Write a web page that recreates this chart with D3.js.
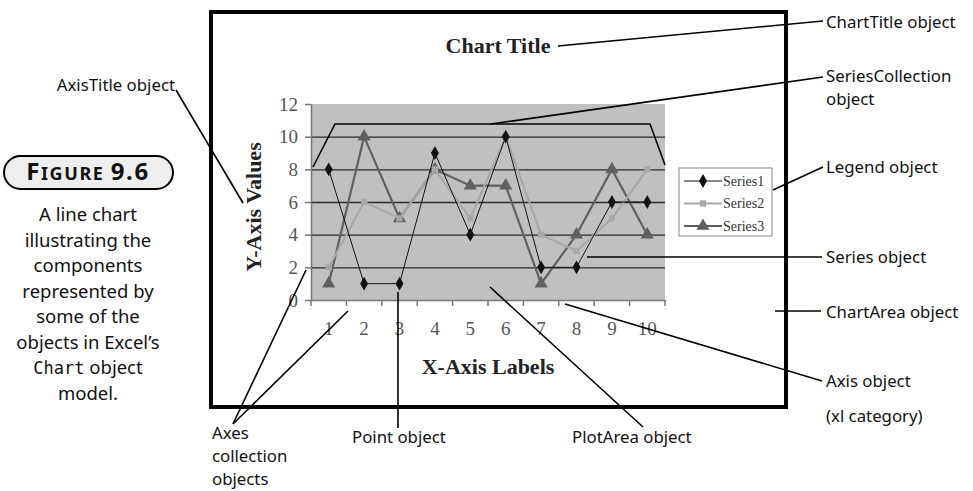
<!DOCTYPE html>
<html>
<head>
<meta charset="utf-8">
<script src="https://cdn.jsdelivr.net/npm/d3@7"></script>
<style>
  body { margin: 0; background: #fff; }
  svg { display: block; }
  .note { font-family: "Noto Sans", Lato, sans-serif; font-size: 16.8px; fill: #111; }
  .serif { font-family: "Liberation Serif", "DejaVu Serif", serif; }
</style>
</head>
<body>
<div id="chart"></div>
<script>
// chart values
const categories = ["1", "2", "3", "4", "5", "6", "7", "8", "9", "10"];
const series1 = [8, 1, 1, 9, 4, 10, 2, 2, 6, 6];
const series2 = [2, 6, 5, 8, 5, 10, 4, 3, 5, 8];
const series3 = [1, 10, 5, 8, 7, 7, 1, 4, 8, 4];
const seriesNames = ["Series1", "Series2", "Series3"];
const yTicks = [0, 2, 4, 6, 8, 10, 12];
const captionLines = ["A line chart", "illustrating the", "components", "represented by", "some of the", "objects in Excel\u2019s"];

var width = 973, height = 491;

var svg = d3.select("#chart")
  .append("svg")
  .attr("width", width)
  .attr("height", height);

// plot area box
var plot = { left: 311, right: 665, top: 104, bottom: 300 };

const x = d3.scaleBand()
  .domain(categories)
  .range([plot.left, plot.right])
  .padding(0);

const y = d3.scaleLinear()
  .domain([0, 12])
  .range([plot.bottom, plot.top]);

// chart area frame
svg.append("rect")
  .attr("x", 211).attr("y", 12)
  .attr("width", 575).attr("height", 395)
  .attr("fill", "#fff")
  .attr("stroke", "#000")
  .attr("stroke-width", 4);

// plot area
svg.append("rect")
  .attr("x", plot.left).attr("y", plot.top)
  .attr("width", plot.right - plot.left)
  .attr("height", plot.bottom - plot.top)
  .attr("fill", "#c0c0c0");

// gridlines
svg.append("g")
  .attr("transform", "translate(" + plot.left + ",0)")
  .call(d3.axisLeft(y).tickValues(yTicks.filter(d => d > 0 && d < 12))
    .tickSize(-(plot.right - plot.left)).tickFormat(""))
  .call(g => g.select(".domain").remove())
  .selectAll("line")
  .attr("stroke", "#2a2a2a")
  .attr("stroke-width", 1.3);

// y axis
var yAxis = svg.append("g")
  .attr("transform", "translate(" + plot.left + ",0)")
  .call(d3.axisLeft(y).tickValues(yTicks).tickSize(6).tickSizeOuter(0).tickPadding(7));
yAxis.select(".domain").attr("stroke", "#777").attr("stroke-width", 1.5);
yAxis.selectAll(".tick line").attr("stroke", "#777").attr("stroke-width", 1.5);
yAxis.selectAll("text")
  .attr("class", "serif")
  .attr("font-size", 19)
  .attr("fill", "#555");

// x axis (labels at band centres, ticks on band edges)
var xAxis = svg.append("g")
  .attr("transform", "translate(0," + plot.bottom + ")")
  .call(d3.axisBottom(x).tickSize(0).tickPadding(22));
xAxis.select(".domain").attr("stroke", "#777").attr("stroke-width", 1.5);
xAxis.selectAll("text")
  .attr("class", "serif")
  .attr("font-size", 19)
  .attr("fill", "#555");
xAxis.selectAll(".edge")
  .data(categories.concat(["end"]))
  .join("line")
  .attr("class", "edge")
  .attr("x1", d => d === "end" ? plot.right : x(d))
  .attr("x2", d => d === "end" ? plot.right : x(d))
  .attr("y1", 0).attr("y2", 6)
  .attr("stroke", "#777").attr("stroke-width", 1.5);

// titles
svg.append("text")
  .attr("class", "serif")
  .attr("x", 498).attr("y", 53)
  .attr("text-anchor", "middle")
  .attr("font-size", 22).attr("font-weight", "bold")
  .attr("fill", "#222")
  .text("Chart Title");

svg.append("text")
  .attr("class", "serif")
  .attr("x", 488).attr("y", 374)
  .attr("text-anchor", "middle")
  .attr("font-size", 22).attr("font-weight", "bold")
  .attr("fill", "#222")
  .text("X-Axis Labels");

svg.append("text")
  .attr("class", "serif")
  .attr("transform", "translate(261,207) rotate(-90)")
  .attr("text-anchor", "middle")
  .attr("font-size", 22).attr("font-weight", "bold")
  .attr("fill", "#222")
  .text("Y-Axis Values");

// series
const seriesData = [
  { name: seriesNames[0], values: series1, color: "#111", width: 1, marker: d3.symbolDiamond, size: 55 },
  { name: seriesNames[1], values: series2, color: "#a8a8a8", width: 2, marker: d3.symbolSquare, size: 40 },
  { name: seriesNames[2], values: series3, color: "#606060", width: 2.2, marker: d3.symbolTriangle, size: 75 }
];

const line = d3.line()
  .x((d, i) => x(categories[i]) + x.bandwidth() / 2)
  .y(d => y(d));

// draw series 3, 2 then 1 so the black one stays on top
seriesData.slice().reverse().forEach(s => {
  svg.append("path")
    .datum(s.values)
    .attr("fill", "none")
    .attr("stroke", s.color)
    .attr("stroke-width", s.width)
    .attr("d", line);
  svg.selectAll(null)
    .data(s.values)
    .join("path")
    .attr("transform", (d, i) => "translate(" + (x(categories[i]) + x.bandwidth() / 2) + "," + y(d) + ")")
    .attr("d", d3.symbol().type(s.marker).size(s.size))
    .attr("fill", s.color);
});

// legend
var legend = svg.append("g").attr("transform", "translate(679,168)");
legend.append("rect")
  .attr("width", 93).attr("height", 68)
  .attr("fill", "#fff")
  .attr("stroke", "#888");
seriesData.forEach((s, i) => {
  var row = legend.append("g").attr("transform", "translate(0," + (13 + i * 22.5) + ")");
  row.append("line")
    .attr("x1", 5).attr("x2", 43)
    .attr("stroke", s.color).attr("stroke-width", s.width);
  row.append("path")
    .attr("transform", "translate(24,0)")
    .attr("d", d3.symbol().type(s.marker).size(s.size))
    .attr("fill", s.color);
  row.append("text")
    .attr("class", "serif")
    .attr("x", 44).attr("dy", "0.35em")
    .attr("font-size", 14)
    .attr("fill", "#333")
    .text(s.name);
});

// annotation leaders
var leaders = [
  [[558, 46], [823, 21]],
  [[491, 124], [823, 77]],
  [[773, 190], [823, 167]],
  [[587, 257], [822, 257]],
  [[775, 311], [821, 311]],
  [[565, 304], [822, 381]],
  [[490, 287], [643, 427]],
  [[398, 292], [398, 428]],
  [[306, 270], [233, 424]],
  [[348, 311], [233, 424]],
  [[176, 90], [243, 203]],
  [[313, 167], [335, 124], [650, 124], [665, 165]]
];
svg.selectAll(".leader")
  .data(leaders)
  .join("path")
  .attr("class", "leader")
  .attr("d", d3.line())
  .attr("fill", "none")
  .attr("stroke", "#000")
  .attr("stroke-width", 1.6);

// annotation labels
var notes = [
  ["ChartTitle object", 826, 22],
  ["SeriesCollection", 826, 76],
  ["object", 826, 99],
  ["Legend object", 826, 167],
  ["Series object", 826, 257],
  ["ChartArea object", 826, 312],
  ["Axis object", 826, 381],
  ["(xl category)", 826, 416],
  ["AxisTitle object", 47, 85],
  ["Axes", 212, 433],
  ["collection", 212, 456],
  ["objects", 212, 479],
  ["Point object", 352, 437],
  ["PlotArea object", 572, 437]
];
svg.selectAll(".note")
  .data(notes)
  .join("text")
  .attr("class", "note")
  .attr("x", d => d[0] === "AxisTitle object" ? 175 : d[1])
  .attr("text-anchor", d => d[0] === "AxisTitle object" ? "end" : "start")
  .attr("y", d => d[2])
  .attr("dy", "0.35em")
  .text(d => d[0]);

// figure badge
svg.append("rect")
  .attr("x", 4).attr("y", 156)
  .attr("width", 169).attr("height", 33)
  .attr("rx", 16.5)
  .attr("fill", "#eee")
  .attr("stroke", "#000")
  .attr("stroke-width", 2);
var badge = svg.append("text")
  .attr("x", 88).attr("y", 180)
  .attr("text-anchor", "middle")
  .attr("font-family", "'Noto Sans', sans-serif")
  .attr("font-weight", "bold")
  .attr("letter-spacing", 1.6)
  .attr("fill", "#111");
badge.append("tspan").attr("font-size", 24).text("F");
badge.append("tspan").attr("font-size", 18).text("IGURE ");
badge.append("tspan").attr("font-size", 24).text("9.6");

// caption
svg.selectAll(".caption")
  .data(captionLines)
  .join("text")
  .attr("class", "caption")
  .attr("x", 88)
  .attr("y", (d, i) => 215 + i * 25.5)
  .attr("dy", "0.35em")
  .attr("text-anchor", "middle")
  .attr("font-family", "'Noto Sans', sans-serif")
  .attr("font-size", 18.5)
  .attr("fill", "#111")
  .text(d => d);

var last = svg.append("text")
  .attr("x", 88).attr("y", 215 + 6 * 25.5)
  .attr("dy", "0.35em")
  .attr("text-anchor", "middle")
  .attr("font-size", 18.5)
  .attr("fill", "#111");
last.append("tspan").attr("font-family", "'DejaVu Sans Mono', monospace").attr("font-size", 17).text("Chart");
last.append("tspan").attr("font-family", "'Noto Sans', sans-serif").text(" object");

svg.append("text")
  .attr("x", 88).attr("y", 215 + 7 * 25.5)
  .attr("dy", "0.35em")
  .attr("text-anchor", "middle")
  .attr("font-family", "'Noto Sans', sans-serif")
  .attr("font-size", 18.5)
  .attr("fill", "#111")
  .text("model.");
</script>
</body>
</html>
